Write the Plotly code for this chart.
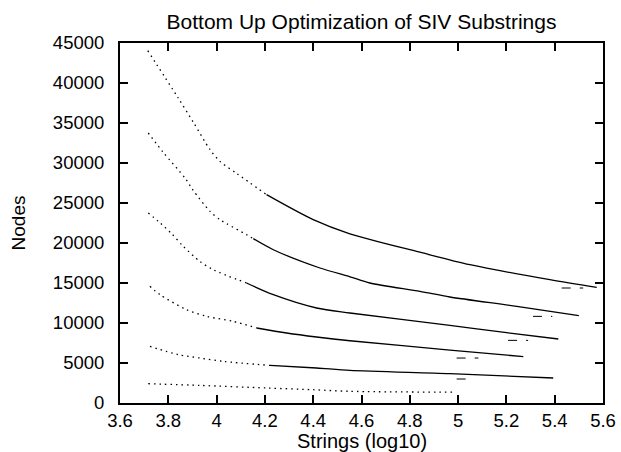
import plotly.graph_objects as go

# --- data ---
x_ticks = [3.6, 3.8, 4.0, 4.2, 4.4, 4.6, 4.8, 5.0, 5.2, 5.4, 5.6]
x_tick_labels = ["3.6", "3.8", "4", "4.2", "4.4", "4.6", "4.8", "5", "5.2", "5.4", "5.6"]
y_ticks = [0, 5000, 10000, 15000, 20000, 25000, 30000, 35000, 40000, 45000]
y_tick_labels = ["0", "5000", "10000", "15000", "20000", "25000", "30000", "35000", "40000", "45000"]

c1_x = [3.715, 3.841, 3.904, 3.973, 4.014, 4.083, 4.207, 4.40, 4.552, 4.842, 5.049, 5.38, 5.574]
c1_y = [44040, 38125, 35075, 31660, 30200, 28700, 26040, 22920, 21150, 18850, 17290, 15410, 14450]

c2_x = [3.717, 3.779, 3.869, 3.901, 3.973, 4.014, 4.042, 4.124, 4.152, 4.235, 4.428, 4.552, 4.635, 4.842, 4.966, 5.243, 5.500]
c2_y = [33750, 31330, 28125, 26660, 23950, 22910, 22410, 21040, 20540, 19160, 16875, 15780, 15000, 13950, 13250, 12080, 10910]

c3_x = [3.717, 3.759, 3.814, 3.862, 3.931, 3.986, 4.124, 4.235, 4.414, 4.552, 4.966, 5.201, 5.415]
c3_y = [23750, 22700, 21160, 19580, 17700, 16660, 15000, 13540, 11875, 11250, 9700, 8790, 8000]

c4_x = [3.724, 3.766, 3.876, 3.959, 4.069, 4.166, 4.290, 4.414, 4.552, 4.966, 5.270]
c4_y = [14580, 13540, 11660, 10830, 10200, 9375, 8750, 8250, 7780, 6620, 5800]

c5_x = [3.724, 3.842, 3.931, 4.028, 4.221, 4.414, 4.552, 4.966, 5.394]
c5_y = [7080, 6040, 5620, 5200, 4700, 4375, 4080, 3660, 3125]

c6_x = [3.717, 3.931, 4.207, 4.400, 4.552, 4.980]
c6_y = [2410, 2200, 1875, 1660, 1460, 1350]

# where each curve changes from sparse dots to a dense line (x value)
split_x = [4.21, 4.22, 4.23, 4.28, 4.40, 4.98]

# short residual dashes just below the curve ends
res_x0 = [5.429, 5.31, 5.207, 4.994, 4.994]
res_x1 = [5.518, 5.39, 5.29, 5.084, 5.063]
res_y = [14375, 10830, 7830, 5620, 3000]

curves = [(c1_x, c1_y), (c2_x, c2_y), (c3_x, c3_y), (c4_x, c4_y), (c5_x, c5_y), (c6_x, c6_y)]

fig = go.Figure()
for (cx, cy), sx in zip(curves, split_x):
    dx = [x for x in cx if x <= sx]
    dy = [y for x, y in zip(cx, cy) if x <= sx]
    k = len(dx)
    fig.add_trace(go.Scatter(x=dx, y=dy, mode="lines",
                             line=dict(color="black", width=1.3, dash="1.5px,4px", shape="spline",
                                       smoothing=0.8),
                             showlegend=False, hoverinfo="skip"))
    if k < len(cx):
        fig.add_trace(go.Scatter(x=cx[k - 1:], y=cy[k - 1:], mode="lines",
                                 line=dict(color="black", width=1.3, shape="spline", smoothing=0.8),
                                 showlegend=False, hoverinfo="skip"))

for a, b, y in zip(res_x0, res_x1, res_y):
    fig.add_trace(go.Scatter(x=[a, b], y=[y, y], mode="lines",
                             line=dict(color="black", width=1, dash="dash"),
                             showlegend=False, hoverinfo="skip"))

font_family = "Liberation Sans, Arial, sans-serif"

fig.update_layout(
    width=621, height=452,
    margin=dict(l=120, r=18, t=43, b=49, autoexpand=False),
    paper_bgcolor="white", plot_bgcolor="white",
    font=dict(family=font_family, size=19, color="black"),
    title=dict(text="Bottom Up Optimization of SIV Substrings",
               x=(120 + 603) / 2 / 621, xanchor="center",
               y=1 - 22 / 452, yanchor="middle", yref="container",
               font=dict(size=21)),
    xaxis=dict(range=[3.6, 5.6], tickvals=x_ticks, ticktext=x_tick_labels,
               showgrid=False, zeroline=False, showline=True, mirror="ticks",
               linecolor="black", linewidth=2, ticks="inside", ticklen=8,
               tickwidth=2, tickcolor="black", ticklabelstandoff=0,
               tickfont=dict(size=18.5), automargin=False),
    yaxis=dict(range=[0, 45000], tickvals=y_ticks, ticktext=y_tick_labels,
               showgrid=False, zeroline=False, showline=True, mirror="ticks",
               linecolor="black", linewidth=2, ticks="inside", ticklen=8,
               tickwidth=2, tickcolor="black", ticklabelstandoff=10,
               tickfont=dict(size=18.5), automargin=False,
               title=dict(text="Nodes", standoff=22, font=dict(size=19))),
    annotations=[dict(text="Strings (log10)", xref="paper", yref="paper",
                      x=0.5, y=-(441 - 403) / 360, xanchor="center", yanchor="middle",
                      showarrow=False, font=dict(size=20))],
)

fig.write_html("out.html")
